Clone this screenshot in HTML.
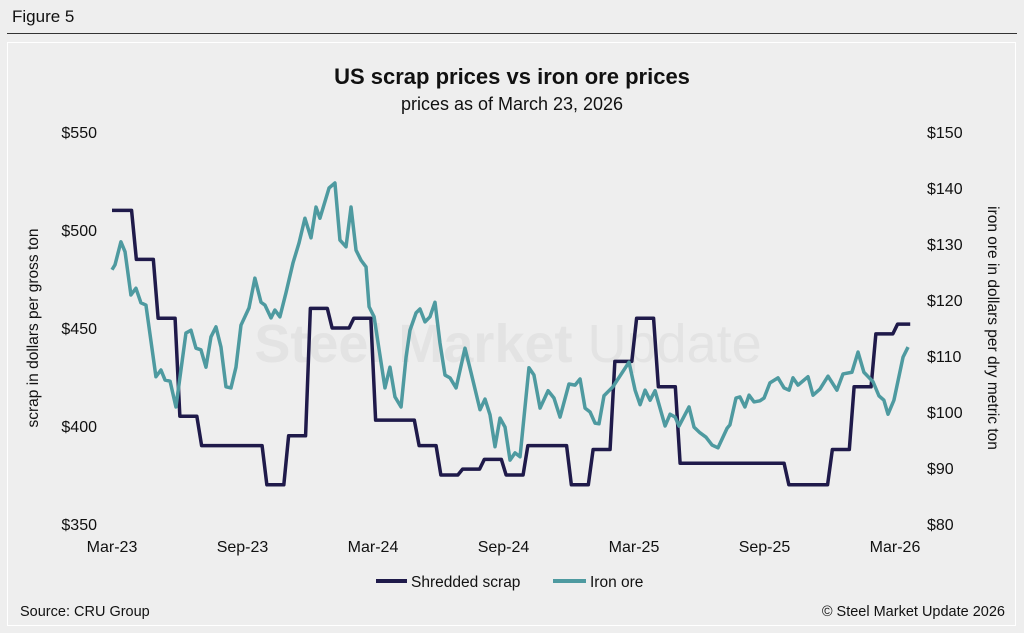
<!DOCTYPE html>
<html><head><meta charset="utf-8"><style>
html,body{margin:0;padding:0;background:#eeeeee;width:1024px;height:633px;overflow:hidden;font-family:"Liberation Sans",sans-serif;}
#fig{position:absolute;left:12px;top:7px;font-size:17px;color:#111;}
#hr{position:absolute;left:7px;top:33px;width:1010px;height:1px;background:#333;}
#panel{position:absolute;left:7px;top:42px;width:1009px;height:584px;border:1px solid #fff;box-sizing:border-box;}
</style></head><body>
<div id="fig">Figure 5</div>
<div id="hr"></div>
<div id="panel"></div>
<svg id="chart" width="1024" height="633" style="position:absolute;left:0;top:0" font-family="Liberation Sans, sans-serif">
<text x="512" y="84" text-anchor="middle" font-size="22" font-weight="bold" fill="#111">US scrap prices vs iron ore prices</text>
<text x="512" y="110" text-anchor="middle" font-size="18" fill="#111">prices as of March 23, 2026</text>
<text x="508" y="362" text-anchor="middle" font-size="54" fill="#e3e3e3"><tspan font-weight="bold">Steel Market</tspan> Update</text>
<text transform="translate(38,328) rotate(-90)" text-anchor="middle" font-size="15.5" fill="#111">scrap in dollars per gross ton</text>
<text transform="translate(988,328) rotate(90)" text-anchor="middle" font-size="15.5" fill="#111">iron ore in dollars per dry metric ton</text>
<g id="axes"></g>
<g id="series"></g>
<g>
<line x1="376" y1="581" x2="407" y2="581" stroke="#1f1a4a" stroke-width="4"/>
<text x="411" y="587" font-size="15.5" fill="#111">Shredded scrap</text>
<line x1="553" y1="581" x2="586" y2="581" stroke="#4e9aa0" stroke-width="4"/>
<text x="590" y="587" font-size="15.5" fill="#111">Iron ore</text>
</g>
<text x="20" y="616" font-size="14.5" fill="#111">Source: CRU Group</text>
<text x="1005" y="616" text-anchor="end" font-size="14.5" fill="#111">© Steel Market Update 2026</text>
</svg>
<script>
const xLabels=["Mar-23","Sep-23","Mar-24","Sep-24","Mar-25","Sep-25","Mar-26"];
const leftTicks=[350,400,450,500,550];
const rightTicks=[80,90,100,110,120,130,140,150];
const scrapValues=[510,485,455,405,390,390,390,370,395,460,450,455,403,403,390,375,378,383,375,390,390,370,388,433,455,420,381,381,381,381,381,370,370,388,420,447,452];
const ironMonths=[0,0.14,0.41,0.6,0.87,1.1,1.33,1.56,2.02,2.25,2.44,2.67,2.94,3.4,3.63,3.86,4.09,4.32,4.55,4.78,5.01,5.24,5.47,5.7,5.93,6.3,6.57,6.85,7.03,7.31,7.49,7.72,8.0,8.32,8.6,8.87,9.15,9.38,9.56,9.98,10.25,10.48,10.76,10.99,11.22,11.45,11.68,11.82,12.05,12.55,12.78,13.01,13.29,13.52,13.7,13.98,14.16,14.39,14.62,14.85,15.08,15.31,15.54,15.82,16.23,16.51,16.92,17.15,17.38,17.61,17.84,18.07,18.3,18.53,18.76,19.17,19.4,19.68,20.05,20.32,20.6,21.01,21.29,21.52,21.75,21.98,22.21,22.39,22.62,23.03,23.77,24.05,24.28,24.51,24.74,24.97,25.43,25.66,25.89,26.07,26.53,26.76,27.03,27.31,27.59,27.86,28.28,28.41,28.69,28.87,29.1,29.29,29.52,29.79,29.98,30.25,30.62,30.9,31.13,31.31,31.54,32.0,32.23,32.55,32.92,33.33,33.61,34.02,34.3,34.57,34.99,35.26,35.49,35.68,35.95,36.37,36.6];
const ironValues=[125.4,126.3,130.4,128.6,120.9,122.1,119.5,119.1,106.3,107.5,105.7,105.5,100.9,114.1,114.6,111.4,111.1,108.0,113.4,115.2,111.6,104.5,104.3,108.0,115.5,118.6,123.9,119.6,119.1,116.8,118.2,117.0,121.3,126.6,130.2,134.6,131.1,136.6,134.6,140.0,140.9,130.7,129.5,136.6,128.9,127.1,125.9,118.8,117.0,104.3,108.0,102.7,100.9,109.8,114.6,117.7,118.4,116.1,117.0,119.6,112.3,106.6,106.1,104.3,111.4,107.0,100.4,102.3,99.5,93.8,98.9,97.3,91.4,92.7,92.0,107.9,106.6,100.7,103.8,102.5,99.1,105.0,104.8,105.9,100.7,100.0,98.0,97.9,102.9,104.5,108.9,103.9,101.3,103.9,102.1,103.8,97.5,99.6,99.1,97.5,100.9,97.3,96.3,95.5,94.1,93.6,97.1,97.7,102.5,102.7,100.9,103.0,101.8,102.0,102.5,105.2,106.1,104.3,103.9,106.1,104.8,106.3,103.0,104.1,106.4,103.9,106.8,107.1,110.7,107.1,105.4,102.9,102.1,99.6,102.1,109.8,111.6];
const lastMonthEnd=36.7;

const NS="http://www.w3.org/2000/svg";
const X0=112,MW=21.75,YT=132,YB=524;
const xs=m=>X0+m*MW;
const yl=v=>YB-(v-350)/200*(YB-YT);
const yr=v=>YB-(v-80)/70*(YB-YT);
function mk(tag,attrs,parent){const e=document.createElementNS(NS,tag);for(const k in attrs)e.setAttribute(k,attrs[k]);parent.appendChild(e);return e;}
const axes=document.getElementById('axes'),series=document.getElementById('series');
leftTicks.forEach(v=>{const t=mk('text',{x:97,y:yl(v)+6,'text-anchor':'end','font-size':16,fill:'#111'},axes);t.textContent='$'+v;

});
rightTicks.forEach(v=>{const t=mk('text',{x:927,y:yr(v)+6,'font-size':16,fill:'#111'},axes);t.textContent='$'+v;

});
xLabels.forEach((l,i)=>{const t=mk('text',{x:xs(i*6),y:552,'text-anchor':'middle','font-size':16,fill:'#111'},axes);t.textContent=l;

});
// scrap step line
let pts=[];
scrapValues.forEach((v,i)=>{const a=i===0?0:i+0.12;const b=i===scrapValues.length-1?lastMonthEnd:i+0.9;pts.push(xs(a)+','+yl(v));pts.push(xs(b)+','+yl(v));});
const sp=mk('polyline',{points:pts.join(' '),fill:'none',stroke:'#1f1a4a','stroke-width':3.5,'stroke-linejoin':'round'},series);


const ip=mk('polyline',{points:ironMonths.map((m,i)=>xs(m)+','+yr(ironValues[i])).join(' '),fill:'none',stroke:'#4e9aa0','stroke-width':3.5,'stroke-linejoin':'round'},series);


</script>
</body></html>
